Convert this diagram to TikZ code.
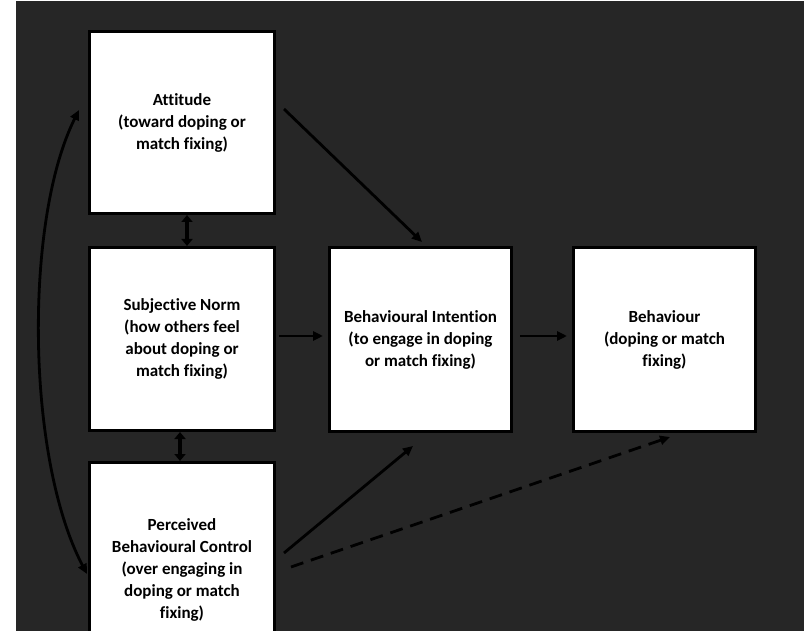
\documentclass[tikz,border=0pt]{standalone}
\usepackage{fontspec}
\setmainfont[Ligatures=NoCommon]{Carlito}
\usetikzlibrary{arrows.meta}
\definecolor{bgdark}{HTML}{262626}
\begin{document}
\begin{tikzpicture}[x=1pt,y=-1pt,
  box/.style={draw=black,fill=white,line width=3pt,minimum width=185pt,align=center,
    font=\bfseries\fontsize{17}{22}\selectfont,text=black,inner sep=0pt},
  arr/.style={line width=2.8pt,-{Triangle[length=10pt,width=9pt]}},
  dbl/.style={line width=4pt,{Triangle[length=7pt,width=11pt]}-{Triangle[length=7pt,width=11pt]}},
  curv/.style={line width=2.8pt,{Triangle[length=10pt,width=9pt]}-{Triangle[length=10pt,width=9pt]}}]
\useasboundingbox (0,0) rectangle (804,631);
\clip (0,0) rectangle (804,631);
\fill[white] (0,0) rectangle (804,631);
\fill[bgdark] (16,1) rectangle (804,631);

\node[box,minimum height=182pt] (att) at (182,122.5) {Attitude\\(toward doping or\\match fixing)};
\node[box,minimum height=183pt] (sn) at (182,339) {Subjective Norm\\(how others feel\\about doping or\\match fixing)};
\node[box,minimum height=215pt] (pbc) at (182,570) {Perceived\\Behavioural Control\\(over engaging in\\doping or match\\fixing)};
\node[box,minimum width=182pt,minimum height=184pt] (bi) at (420.5,339.5) {Behavioural Intention\\(to engage in doping\\or match fixing)};
\node[box,minimum width=182pt,minimum height=184pt] (beh) at (664.5,339.5) {Behaviour\\(doping or match\\fixing)};

\coordinate (a1) at (284,109);
\coordinate (a2) at (422,242);
\coordinate (s1) at (279,336);
\coordinate (s2) at (323,336);
\coordinate (b1) at (520,336);
\coordinate (b2) at (567,336);
\coordinate (p1) at (284,553);
\coordinate (p2) at (413,446);
\coordinate (d1) at (291,567);
\coordinate (d2) at (670,437);
\coordinate (c1) at (79,110);
\coordinate (c2) at (87,574);

\draw[arr] (a1) -- (a2);
\draw[arr] (s1) -- (s2);
\draw[arr] (b1) -- (b2);
\draw[arr] (p1) -- (p2);
\draw[arr,dash pattern=on 13pt off 8pt] (d1) -- (d2);
\draw[dbl] ([xshift=5pt]att.south) -- ([xshift=5pt]sn.north);
\draw[dbl] ([xshift=-2pt]sn.south) -- ([xshift=-2pt]pbc.north);
\draw[curv] (c1) .. controls (24,220) and (26,458) .. (c2);
\end{tikzpicture}
\end{document}
